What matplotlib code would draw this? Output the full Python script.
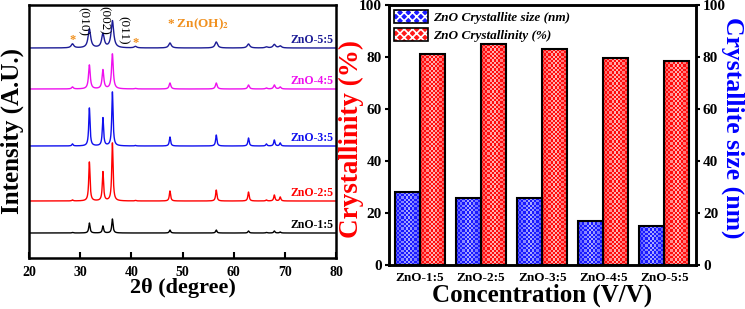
import numpy as np
import matplotlib
matplotlib.use("Agg")
import matplotlib.pyplot as plt
from matplotlib.patches import Patch
from matplotlib.legend_handler import HandlerTuple

plt.rcParams['font.family'] = ['Liberation Serif', 'DejaVu Serif']
plt.rcParams['font.weight'] = 'bold'
plt.rcParams['mathtext.fontset'] = 'stix'
plt.rcParams['hatch.color'] = 'white'
plt.rcParams['hatch.linewidth'] = 1.2

# ---- XRD data (peak positions in 2theta, heights) ----
peak_pos = [28.5, 31.8, 34.45, 36.3, 40.8, 47.55, 56.6, 62.9, 66.4, 67.95, 69.1]
samples = ["ZnO-1:5", "ZnO-2:5", "ZnO-3:5", "ZnO-4:5", "ZnO-5:5"]
offsets = [25, 57, 112, 169, 210]
h_1_5 = [0.5, 10, 7, 14, 0, 3, 3, 2, 0.5, 2, 1]
h_2_5 = [1, 39, 29, 58, 0.5, 10, 11, 9, 1, 6, 4]
h_3_5 = [2, 38, 28, 54, 0.5, 9, 11, 8, 2, 6, 3]
h_4_5 = [2, 24, 19, 35, 0.5, 6, 6, 4, 1, 4, 2]
h_5_5 = [4, 19, 14, 27, 1.5, 5, 6, 4, 1, 3.5, 2]
heights = [h_1_5, h_2_5, h_3_5, h_4_5, h_5_5]
widths = [0.15, 0.15, 0.15, 0.2, 0.3]
line_colors = ["black", "#ff0000", "#1010ee", "#ee10ee", "#1c1c96"]

# ---- bar data ----
conc = ["ZnO-1:5", "ZnO-2:5", "ZnO-3:5", "ZnO-4:5", "ZnO-5:5"]
cryst_size = [28, 25.7, 25.7, 17, 15]
crystallinity = [81, 85, 83, 79.5, 78.5]

fig = plt.figure(figsize=(7.45, 3.09), dpi=100)

# ---------------- left panel: XRD ----------------
ax1 = fig.add_axes([29/745, 51/309, 307/745, 253/309])
x = np.linspace(20, 80, 4000)
for name, off, hs, w, c in zip(samples, offsets, heights, widths, line_colors):
    y = np.zeros_like(x)
    for p, h in zip(peak_pos, hs):
        y += h / (1 + ((x - p) / w) ** 2)
    ax1.plot(x, y + off, color=c, lw=1.0)
    ax1.text(79.5, off + 2, name, color=c, ha='right', va='bottom',
             fontsize=8.5, fontweight='bold')

ax1.set_xlim(20, 80)
ax1.set_ylim(0, 253)
ax1.set_xticks(range(20, 81, 10))
ax1.set_yticks([])
ax1.tick_params(axis='x', direction='in', length=4, width=1.5, labelsize=10, pad=6)
for lab in ax1.get_xticklabels():
    lab.set_fontweight('bold')
for s in ax1.spines.values():
    s.set_linewidth(1.8)
ax1.set_xlabel("2θ (degree)", fontsize=16, fontweight='bold', labelpad=-1)
ax1.set_ylabel("Intensity (A.U.)", fontsize=18, fontweight='bold')
ax1.yaxis.label.set_va('center')
ax1.yaxis.set_label_coords(-0.055, 0.50)

# hkl labels and Zn(OH)2 markers
for lbl, xp, yp in [("(010)", 30.5, 236), ("(002)", 34.65, 238), ("(011)", 38.4, 228)]:
    ax1.text(xp, yp, lbl, rotation=-90, ha='center', va='center', fontsize=9.5,
             fontweight='normal')
for xs, ys in [(28.6, 218), (40.9, 215)]:
    ax1.text(xs, ys, "*", color='#f0901e', ha='center', va='center', fontsize=9)
ax1.text(47.0, 234, r"* Zn(OH)$_\mathbf{2}$", color='#f0901e', ha='left', va='center',
         fontsize=9.5, fontweight='bold')

# ---------------- right panel: bars ----------------
ax = fig.add_axes([389/745, 44/309, 307/745, 260/309])
ax2 = ax.twinx()
idx = np.arange(len(conc))
bw = 0.41
red_bars = ax.bar(idx + bw/2, crystallinity, bw, facecolor='none', edgecolor='black', lw=1.5, zorder=3)
blue_bars = ax2.bar(idx - bw/2, cryst_size, bw, facecolor='none', edgecolor='black', lw=1.5, zorder=3)


def checker(h_val, dark, light):
    rows = max(int(h_val / 100 * 260 / 2.2), 1)
    cols = 12
    ii, jj = np.mgrid[0:rows, 0:cols]
    chk = ((ii + jj) % 2).astype(float)
    g = 1 - np.abs(np.linspace(-1, 1, cols))[None, :] * 0.6
    dark = np.array(dark)[None, None, :]
    light = np.array(light)[None, None, :]
    lt = dark + (light - dark) * g[..., None]
    return np.where(chk[..., None] > 0, lt, dark)


for axis, bars, dark, light in [(ax, red_bars, (1.0, 0.05, 0.05), (1.0, 0.75, 0.75)),
                                 (ax2, blue_bars, (0.1, 0.1, 1.0), (0.7, 0.7, 1.0))]:
    for b in bars:
        x0, w, h = b.get_x(), b.get_width(), b.get_height()
        im = axis.imshow(checker(h, dark, light), extent=[x0, x0 + w, 0, h],
                         aspect='auto', interpolation='nearest', zorder=2, origin='lower')
        im.set_clip_path(b)
ax.set_xlim(-0.51, 4.52)
ax.set_ylim(0, 100)
ax2.set_ylim(0, 100)

ax.set_xticks(idx)
ax.set_xticklabels(conc, fontsize=9.5, fontweight='bold')
ax.set_yticks(range(0, 101, 20))
ax2.set_yticks(range(0, 101, 20))
ax.tick_params(axis='x', length=0, pad=5)
ax.tick_params(axis='y', direction='out', length=3, width=1.5, labelsize=11, pad=2)
ax2.tick_params(axis='y', direction='out', length=3, width=1.5, labelsize=11, pad=2)
for lab in ax.get_yticklabels() + ax2.get_yticklabels():
    lab.set_fontweight('bold')
for s in list(ax.spines.values()) + list(ax2.spines.values()):
    s.set_linewidth(1.8)

ax.set_xlabel("Concentration (V/V)", fontsize=18, fontweight='bold', labelpad=0)
ax.set_ylabel("Crystallinity (%)", fontsize=19.5, fontweight='bold', color='#ff0000')
ax.yaxis.label.set_va('center')
ax.yaxis.set_label_coords(-0.122, 0.485)
ax2.set_ylabel("Crystallite size (nm)", fontsize=18.5, fontweight='bold', color='#0000ff',
               rotation=270)
ax2.yaxis.label.set_va('center')
ax2.yaxis.set_label_coords(1.12, 0.527)

h_blue = (Patch(facecolor='#1a1aff', hatch='xxxx', lw=0), Patch(fill=False, edgecolor='black', lw=1.2))
h_red = (Patch(facecolor='#ff1a1a', hatch='xxxx', lw=0), Patch(fill=False, edgecolor='black', lw=1.2))
leg = ax2.legend([h_blue, h_red], ["ZnO Crystallite size (nm)", "ZnO Crystallinity (%)"],
                 handler_map={tuple: HandlerTuple(ndivide=1, pad=0)},
                 loc='upper left', bbox_to_anchor=(-0.01, 1.01), frameon=False,
                 prop={'style': 'italic', 'weight': 'bold', 'size': 9.5},
                 handlelength=2.6, handleheight=1.1, handletextpad=0.4, labelspacing=0.3,
                 borderaxespad=0.2)

fig.savefig("out.png", dpi=100)
